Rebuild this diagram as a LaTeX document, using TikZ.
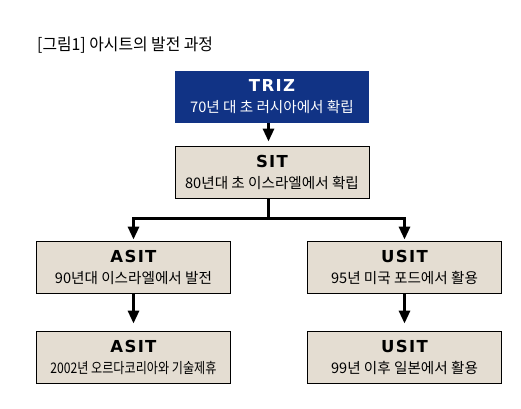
\documentclass[tikz,border=0pt]{standalone}
\usepackage{fontspec}
\usetikzlibrary{arrows.meta, positioning}
\newfontfamily\krfont{Noto Sans CJK KR}
\newfontfamily\krtight{Noto Sans CJK KR}[FakeStretch=0.83]
\newfontfamily\capfont{Noto Sans CJK KR}[FakeStretch=0.96]
\newfontfamily\headfont{DejaVu Sans}[LetterSpace=8]
\definecolor{trizblue}{RGB}{17, 51, 133}
\definecolor{boxbeige}{RGB}{228, 221, 210}
\newcommand{\boxhead}[1]{{\headfont\bfseries\fontsize{16.5}{21}\selectfont #1}}

\begin{document}
\begin{tikzpicture}[x=1pt, y=-1pt,
    box/.style={draw=black, line width=0.9pt, fill=boxbeige, minimum width=194pt,
      minimum height=52pt, inner sep=0pt, align=center,
      font=\krfont\fontsize{14.6}{21}\selectfont},
    topbox/.style={box, draw=none, fill=trizblue, text=white},
    flow/.style={line width=3pt, -{Triangle[width=11pt,length=13pt]}}]
  \useasboundingbox (0,0) rectangle (521,408);
  % caption
  \node[anchor=west, inner sep=0pt, font=\capfont\fontsize{16.5}{18}\selectfont] (caption)
    at (37,45) {[그림1] 아시트의 발전 과정};
  % boxes
  \node[topbox] (triz) at (272,96.5) {\boxhead{TRIZ}\\70년 대 초 러시아에서 확립};
  \node[box] (sit) at (272,172) {\boxhead{SIT}\\80년대 초 이스라엘에서 확립};
  \node[box] (asit) at (133.5,267) {\boxhead{ASIT}\\90년대 이스라엘에서 발전};
  \node[box] (usit) at (404.5,267) {\boxhead{USIT}\\95년 미국 포드에서 활용};
  \node[box] (asitkr) at (133.5,357) {\boxhead{ASIT}\\{\krtight 2002년 오르다코리아와 기술제휴}};
  \node[box] (usitjp) at (404.5,357) {\boxhead{USIT}\\99년 이후 일본에서 활용};
  % connectors
  \draw[flow, shorten >=4pt] ([xshift=-3.5pt]triz.south) -- ([xshift=-3.5pt]sit.north);
  \coordinate (fork) at ([xshift=-3.5pt, yshift=-20pt]sit.south);
  \draw[line width=3pt] ([xshift=-3.5pt]sit.south) -- (fork);
  \draw[flow, shorten >=1pt] (fork) -| (asit.north);
  \draw[flow, shorten >=1pt] (fork) -| (usit.north);
  \draw[flow, shorten >=7pt] (asit.south) -- (asitkr.north);
  \draw[flow, shorten >=7pt] (usit.south) -- (usitjp.north);
\end{tikzpicture}
\end{document}
